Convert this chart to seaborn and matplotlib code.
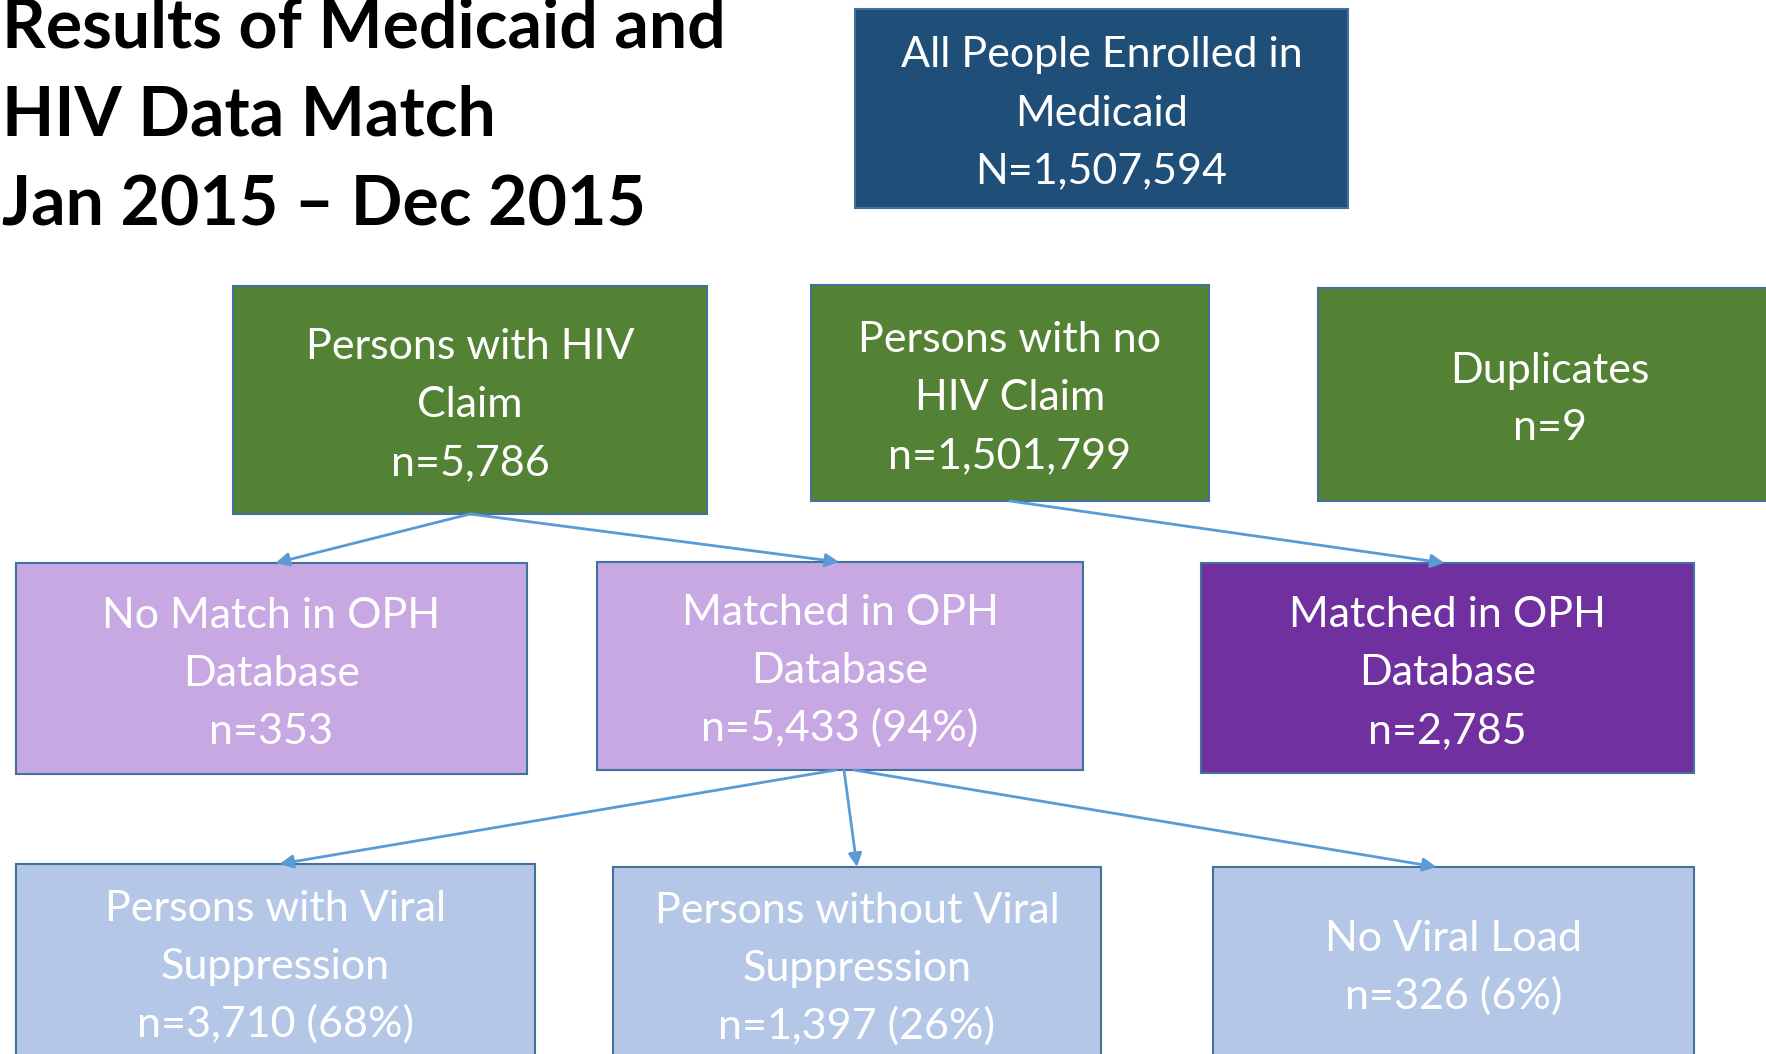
import matplotlib

matplotlib.use("Agg")
import matplotlib.pyplot as plt
import seaborn as sns
from matplotlib.patches import FancyArrowPatch, Rectangle

# Flowchart content
TITLE_LINES = ["Results of Medicaid and", "HIV Data Match", "Jan 2015 \u2013 Dec 2015"]

BOX_IDS = ["all", "hiv", "no_hiv", "dup", "no_match", "matched", "matched_no_claim",
           "suppressed", "not_suppressed", "no_vl"]
BOX_LABELS = [
    ["All People Enrolled in", "Medicaid"],
    ["Persons with HIV", "Claim"],
    ["Persons with no", "HIV Claim"],
    ["Duplicates"],
    ["No Match in OPH", "Database"],
    ["Matched in OPH", "Database"],
    ["Matched in OPH", "Database"],
    ["Persons with Viral", "Suppression"],
    ["Persons without Viral", "Suppression"],
    ["No Viral Load"],
]
BOX_COUNTS = ["N=1,507,594", "n=5,786", "n=1,501,799", "n=9", "n=353",
              "n=5,433 (94%)", "n=2,785", "n=3,710 (68%)", "n=1,397 (26%)", "n=326 (6%)"]

EDGES = [("hiv", "no_match"), ("hiv", "matched"), ("no_hiv", "matched_no_claim"),
         ("matched", "suppressed"), ("matched", "not_suppressed"), ("matched", "no_vl")]

# Layout (pixels, y grows downward)
BOX_RECTS = {
    "all": (855, 9, 493, 199),
    "hiv": (233, 286, 474, 228),
    "no_hiv": (811, 285, 398, 216),
    "dup": (1318, 288, 464, 213),
    "no_match": (16, 563, 511, 211),
    "matched": (597, 562, 486, 208),
    "matched_no_claim": (1201, 563, 493, 210),
    "suppressed": (16, 864, 519, 196),
    "not_suppressed": (613, 867, 488, 194),
    "no_vl": (1213, 867, 481, 192),
}
BOX_COLORS = {
    "all": "#1F4E79", "hiv": "#548235", "no_hiv": "#548235", "dup": "#548235",
    "no_match": "#C8A8E3", "matched": "#C8A8E3", "matched_no_claim": "#7030A0",
    "suppressed": "#B4C7E7", "not_suppressed": "#B4C7E7", "no_vl": "#B4C7E7",
}
# (start dx, end dx) offsets from box centres
EDGE_OFFSETS = [(0, 4), (0, -1), (0, -3), (-4, 4), (4, 0), (14, -17)]

LINE_PITCH = 58
FONT_PT = 31
EDGE_COLOR = "#41719C"
ARROW_COLOR = "#5B9BD5"


def main():
    sns.set_theme(style="white")
    plt.rcParams["font.family"] = ["Lato", "DejaVu Sans"]

    fig = plt.figure(figsize=(17.66, 10.54), dpi=100)
    ax = fig.add_axes([0, 0, 1, 1])
    ax.set_xlim(0, 1766)
    ax.set_ylim(1054, 0)
    ax.axis("off")

    # title
    for i, line in enumerate(TITLE_LINES):
        ax.text(2, 47 + i * 89, line, fontsize=49, fontweight="bold",
                color="black", ha="left", va="baseline")

    cap_px = 0.72 * FONT_PT * 100 / 72
    for box_id, labels, count in zip(BOX_IDS, BOX_LABELS, BOX_COUNTS):
        x, y, w, h = BOX_RECTS[box_id]
        ax.add_patch(Rectangle((x, y), w, h, facecolor=BOX_COLORS[box_id],
                               edgecolor=EDGE_COLOR, linewidth=1.5, zorder=2))
        lines = labels + [count]
        cx, cy = x + w / 2, y + h / 2 + 1.5
        n = len(lines)
        for i, line in enumerate(lines):
            ly = cy + (i - (n - 1) / 2) * LINE_PITCH + cap_px / 2
            ax.text(cx, ly, line, fontsize=FONT_PT, color="white",
                    ha="center", va="baseline", zorder=3)

    for (src, dst), (dx0, dx1) in zip(EDGES, EDGE_OFFSETS):
        sx, sy, sw, sh = BOX_RECTS[src]
        tx, ty, tw, th = BOX_RECTS[dst]
        arrow = FancyArrowPatch((sx + sw / 2 + dx0, sy + sh), (tx + tw / 2 + dx1, ty),
                                arrowstyle="-|>", mutation_scale=20, color=ARROW_COLOR,
                                linewidth=2, shrinkA=0, shrinkB=0, zorder=4)
        ax.add_patch(arrow)

    fig.savefig("out.png", dpi=100)
    plt.close(fig)


if __name__ == "__main__":
    main()
